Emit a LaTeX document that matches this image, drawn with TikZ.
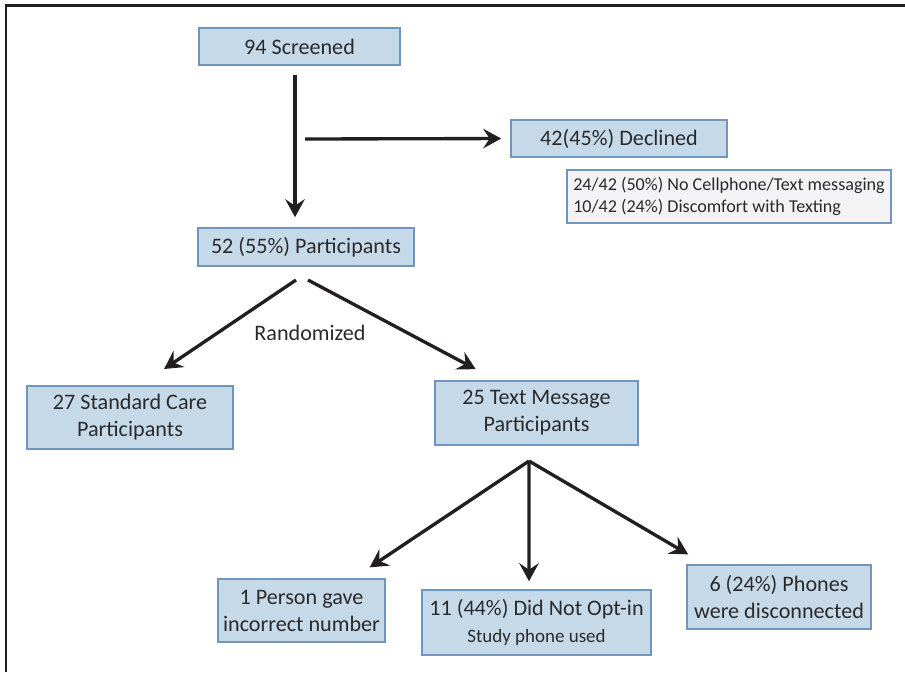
\documentclass[tikz,border=0pt]{standalone}
\usepackage{fontspec}
\setmainfont{Carlito}
\usepackage{tikz}
\usetikzlibrary{arrows.meta,positioning,calc}
\definecolor{boxblue}{RGB}{198,217,233}
\definecolor{boxedge}{RGB}{112,150,190}
\definecolor{notegray}{RGB}{243,243,246}
\definecolor{inkgray}{RGB}{42,42,42}
\definecolor{arrowink}{RGB}{35,31,32}
\tikzset{
  flowbox/.style={draw=boxedge, fill=boxblue, line width=0.9pt, inner sep=2pt,
              align=center, text=inkgray, font=\fontsize{12.6}{15.3}\selectfont},
  notebox/.style={draw=boxedge, fill=notegray, line width=0.8pt, inner sep=3pt,
              align=left, text=inkgray, font=\fontsize{10.3}{13}\selectfont},
  flowarr/.style={-{Stealth[length=3.6mm, width=3.9mm, inset=1.3mm]}, arrowink, line width=1.9pt},
}

\begin{document}
\begin{tikzpicture}
  \useasboundingbox (0,0) rectangle (18.1,-13.44);
  % frame (top and left edges only)
  \draw[arrowink, line width=1.7pt] (0.12,-13.44) -- (0.12,-0.1) -- (18.1,-0.1);
%---------------- screening ----------------
  \node[flowbox, minimum width=4.02cm, minimum height=0.74cm] (screened) at (5.99,-0.93) {94 Screened};
  \node[flowbox, minimum width=4.32cm, minimum height=0.74cm] (declined) at (12.38,-2.77) {42(45\%) Declined};
  \node[notebox, minimum width=6.48cm, minimum height=1.06cm] (reasons) at (14.58,-3.93)
       {24/42 (50\%) No Cellphone/Text messaging\\ 10/42 (24\%) Discomfort with Texting};
  \node[flowbox, minimum width=4.32cm, minimum height=0.76cm] (partic) at (6.12,-4.94) {52 (55\%) Participants};
  \coordinate (trunk) at (5.90,-1.5);
  \coordinate (branch) at (6.10,-2.78);
  \draw[flowarr, shorten >=2mm] (trunk) -- (trunk |- partic.north);
  \draw[flowarr, shorten >=1.8mm] (branch) -- (declined.west);
%---------------- randomization ----------------
  \node[font=\fontsize{12.6}{14}\selectfont, text=inkgray] (randlbl) at (6.2,-6.66) {Randomized};
  \node[flowbox, minimum width=4.12cm, minimum height=1.26cm] (stdcare) at (2.60,-8.35)
       {27 Standard Care\\ Participants};
  \node[flowbox, minimum width=4.06cm, minimum height=1.28cm] (textmsg) at (10.73,-8.26)
       {25 Text Message\\ Participants};
  \coordinate (randL) at (5.92,-5.6);
  \coordinate (randR) at (6.16,-5.6);
  \draw[flowarr, shorten >=5.8mm] (randL) -- ([xshift=2mm]stdcare.north);
  \draw[flowarr, shorten >=4.7mm] (randR) -- ([xshift=-8mm]textmsg.north);
%---------------- text message arm ----------------
  \node[flowbox, minimum width=3.34cm, minimum height=1.26cm] (wrongnum) at (6.03,-12.21)
       {1 Person gave\\ incorrect number};
  \node[flowbox, minimum width=4.58cm, minimum height=1.30cm] (optout) at (10.73,-12.45)
       {11 (44\%) Did Not Opt-in\\ {\fontsize{10.8}{13}\selectfont Study phone used}};
  \node[flowbox, minimum width=3.68cm, minimum height=1.28cm] (disconn) at (15.58,-11.94)
       {6 (24\%) Phones\\ were disconnected};
  \coordinate (fan) at (10.58,-9.22);
  \draw[flowarr, shorten >=3.9mm] (fan) -- ([xshift=10.4mm]wrongnum.north);
  \draw[flowarr, shorten >=1.6mm] (fan) -- ([xshift=-1.5mm]optout.north);
  \draw[flowarr, shorten >=3.9mm] (fan) -- ([xshift=-14.8mm]disconn.north);
\end{tikzpicture}
\end{document}
